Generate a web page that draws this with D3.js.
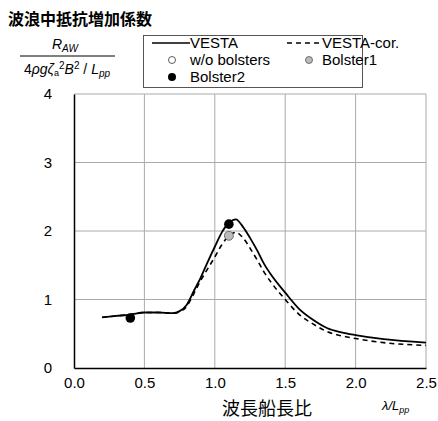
<!DOCTYPE html>
<html>
<head>
<meta charset="utf-8">
<script src="https://cdn.jsdelivr.net/npm/d3@7"></script>
<style>
  body { margin: 0; background: #fff; }
  text { font-family: "Liberation Sans", Arial, sans-serif; }
  .jp { font-family: "Noto Sans CJK JP", sans-serif; }
</style>
</head>
<body>
<div id="chart"></div>
<script>
// Wave length ratio (lambda / Lpp)
const vestaX = [0.2, 0.3, 0.4, 0.5, 0.6, 0.7, 0.75, 0.8, 0.85, 0.9, 0.95, 1.0, 1.05, 1.1, 1.15, 1.2, 1.25, 1.3, 1.35, 1.4, 1.5, 1.6, 1.7, 1.8, 1.9, 2.0, 2.2, 2.5];
const vestaY = [0.74, 0.76, 0.78, 0.81, 0.81, 0.80, 0.83, 0.92, 1.12, 1.32, 1.55, 1.77, 1.98, 2.12, 2.17, 2.06, 1.90, 1.72, 1.52, 1.36, 1.10, 0.86, 0.70, 0.58, 0.52, 0.48, 0.42, 0.37];
const corY   = [0.74, 0.76, 0.78, 0.81, 0.81, 0.80, 0.82, 0.90, 1.08, 1.28, 1.45, 1.62, 1.80, 1.93, 1.98, 1.90, 1.75, 1.58, 1.40, 1.25, 1.00, 0.78, 0.64, 0.53, 0.47, 0.43, 0.37, 0.33];

// Experiment points
const bolster1 = [[1.1, 1.93]];
const bolster2 = [[0.4, 0.73], [1.1, 2.10]];

const xTicks = [0, 0.5, 1.0, 1.5, 2.0, 2.5];
const yTicks = [0, 1, 2, 3, 4];

const W = 438, H = 421;
const margin = {top: 94, right: 12, bottom: 53, left: 74};
const width = W - margin.left - margin.right;
const height = H - margin.top - margin.bottom;

const svg = d3.select("#chart").append("svg")
    .attr("width", W)
    .attr("height", H);

// Title
svg.append("text")
    .attr("class", "jp")
    .attr("x", 8).attr("y", 25)
    .style("font-size", "16px")
    .style("font-weight", "bold")
    .text("波浪中抵抗増加係数");

const g = svg.append("g")
    .attr("transform", `translate(${margin.left},${margin.top})`);

const x = d3.scaleLinear().domain([0, 2.5]).range([0, width]);
const y = d3.scaleLinear().domain([0, 4]).range([height, 0]);

// Grid
g.append("g").selectAll("line")
    .data(xTicks.slice(1))
    .join("line")
    .attr("x1", d => x(d)).attr("x2", d => x(d))
    .attr("y1", 0).attr("y2", height)
    .attr("stroke", "#aaa").attr("stroke-width", 1);
g.append("g").selectAll("line")
    .data(yTicks.slice(1))
    .join("line")
    .attr("x1", 0).attr("x2", width)
    .attr("y1", d => y(d)).attr("y2", d => y(d))
    .attr("stroke", "#aaa").attr("stroke-width", 1);

// Axes
const xAxis = d3.axisBottom(x).tickValues(xTicks).tickFormat(d3.format(".1f")).tickSize(0).tickPadding(9);
const yAxis = d3.axisLeft(y).tickValues(yTicks).tickFormat(d3.format("d")).tickSize(0).tickPadding(22);

g.append("g").attr("transform", `translate(0,${height})`).call(xAxis)
    .call(a => a.select(".domain").attr("stroke", "#000").attr("stroke-width", 1.5))
    .selectAll("text").style("font-size", "15px").attr("fill", "#000");
g.append("g").call(yAxis)
    .call(a => a.select(".domain").attr("stroke", "#000").attr("stroke-width", 1.5))
    .selectAll("text").style("font-size", "15px").attr("fill", "#000");

// Lines
const line = d3.line()
    .x(d => x(d[0]))
    .y(d => y(d[1]))
    .curve(d3.curveMonotoneX);

g.append("path")
    .datum(vestaX.map((v, i) => [v, corY[i]]))
    .attr("d", line)
    .attr("fill", "none").attr("stroke", "#000").attr("stroke-width", 1.6)
    .attr("stroke-dasharray", "5,4");

g.append("path")
    .datum(vestaX.map((v, i) => [v, vestaY[i]]))
    .attr("d", line)
    .attr("fill", "none").attr("stroke", "#000").attr("stroke-width", 1.8);

// Markers
g.selectAll(".b1").data(bolster1).join("circle")
    .attr("class", "b1")
    .attr("cx", d => x(d[0])).attr("cy", d => y(d[1]))
    .attr("r", 4.5).attr("fill", "#bbb").attr("stroke", "#555").attr("stroke-width", 0.8);
g.selectAll(".b2").data(bolster2).join("circle")
    .attr("class", "b2")
    .attr("cx", d => x(d[0])).attr("cy", d => y(d[1]))
    .attr("r", 4.8).attr("fill", "#000");

// Y label (fraction)
const yl = svg.append("g").style("font-style", "italic").style("font-size", "14px");
yl.append("text").attr("x", 65).attr("y", 49).attr("text-anchor", "middle")
    .html('R<tspan dy="3" font-size="10px">AW</tspan>');
svg.append("line").attr("x1", 20).attr("x2", 115).attr("y1", 56).attr("y2", 56)
    .attr("stroke", "#000").attr("stroke-width", 1);
yl.append("text").attr("x", 67).attr("y", 74).attr("text-anchor", "middle")
    .html('<tspan font-style="normal">4</tspan>ρgζ<tspan dy="2" font-size="9px" font-style="normal">a</tspan><tspan dy="-7" font-size="10px" font-style="normal">2</tspan><tspan dy="5">B</tspan><tspan dy="-5" font-size="10px" font-style="normal">2</tspan><tspan dy="5" font-style="normal"> / </tspan>L<tspan dy="3" font-size="10px">pp</tspan>');

// X label
svg.append("text").attr("class", "jp")
    .attr("x", 267).attr("y", 415).attr("text-anchor", "middle")
    .style("font-size", "18px")
    .text("波長船長比");
svg.append("text")
    .attr("x", 382).attr("y", 410)
    .style("font-style", "italic").style("font-size", "13px")
    .html('λ/L<tspan dy="3" font-size="9px">pp</tspan>');

// Legend
const lg = svg.append("g").style("font-size", "15px");
lg.append("rect").attr("x", 143.5).attr("y", 35.5).attr("width", 219).attr("height", 52)
    .attr("fill", "#fff").attr("stroke", "#555").attr("stroke-width", 1);
lg.append("line").attr("x1", 152).attr("x2", 190).attr("y1", 43).attr("y2", 43)
    .attr("stroke", "#000").attr("stroke-width", 1.6);
lg.append("text").attr("x", 190).attr("y", 48).text("VESTA");
lg.append("line").attr("x1", 287).attr("x2", 322).attr("y1", 43).attr("y2", 43)
    .attr("stroke", "#000").attr("stroke-width", 1.6).attr("stroke-dasharray", "5,4");
lg.append("text").attr("x", 322).attr("y", 48).text("VESTA-cor.");
lg.append("circle").attr("cx", 172).attr("cy", 60).attr("r", 3.5)
    .attr("fill", "#fff").attr("stroke", "#333").attr("stroke-width", 0.8);
lg.append("text").attr("x", 190).attr("y", 65).text("w/o bolsters");
lg.append("circle").attr("cx", 309).attr("cy", 60).attr("r", 3.5)
    .attr("fill", "#bbb").attr("stroke", "#555").attr("stroke-width", 0.8);
lg.append("text").attr("x", 322).attr("y", 65).text("Bolster1");
lg.append("circle").attr("cx", 172).attr("cy", 77).attr("r", 4)
    .attr("fill", "#000");
lg.append("text").attr("x", 190).attr("y", 82).text("Bolster2");
</script>
</body>
</html>
